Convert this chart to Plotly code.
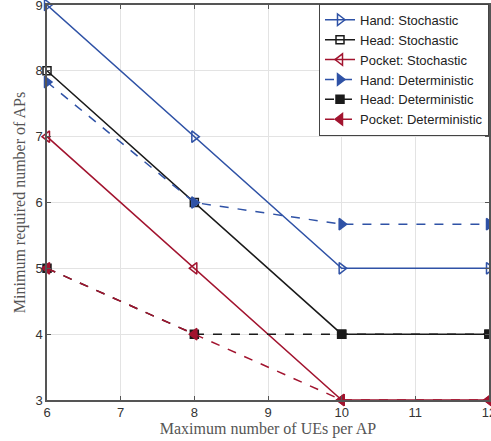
import plotly.graph_objects as go

x_vals = [6, 8, 10, 12]
hand_stoch = [9, 7, 5, 5]
head_stoch = [8, 6, 4, 4]
pocket_stoch = [7, 5, 3, 3]
hand_det = [7.83, 6, 5.67, 5.67]
head_det = [5, 4, 4, 4]
pocket_det = [5, 4, 3, 3]

BLUE = "#2f52a6"
BLACK = "#1a1a1a"
RED = "#a2142f"

series = [
    ("Hand: Stochastic", hand_stoch, BLUE, "solid", "triangle-right-open"),
    ("Head: Stochastic", head_stoch, BLACK, "solid", "square-open"),
    ("Pocket: Stochastic", pocket_stoch, RED, "solid", "triangle-left-open"),
    ("Hand: Deterministic", hand_det, BLUE, "dash", "triangle-right"),
    ("Head: Deterministic", head_det, BLACK, "dash", "square"),
    ("Pocket: Deterministic", pocket_det, RED, "dash", "triangle-left"),
]

fig = go.Figure()
for name, ys, col, dash, sym in series:
    fig.add_trace(go.Scatter(
        x=x_vals, y=ys, name=name, mode="lines+markers",
        line=dict(color=col, width=1.5, dash=dash),
        marker=dict(symbol=sym, size=10 if "square" not in sym else 8,
                    color=col, line=dict(color=col, width=1.5)),
        cliponaxis=False,
    ))

axis_common = dict(
    showgrid=True, gridcolor="#e3e3e3", gridwidth=1,
    showline=True, linecolor="#555555", linewidth=1.5, mirror="ticks",
    ticks="inside", ticklen=4, tickcolor="#555555",
    tickfont=dict(family="Liberation Sans, Arial", size=13, color="#333333"),
    zeroline=False, ticklabeloverflow="allow", automargin=False,
)

title_font = dict(family="Liberation Serif, DejaVu Serif", size=16, color="#555555")

fig.update_layout(
    width=491, height=441,
    margin=dict(l=47, r=2, t=5, b=41, autoexpand=False),
    plot_bgcolor="white", paper_bgcolor="white",
    xaxis=dict(range=[6, 12], dtick=1,
               title=dict(text="Maximum number of UEs per AP", font=title_font, standoff=2),
               **axis_common),
    yaxis=dict(range=[3, 9], dtick=1,
               title=dict(text="Minimum required number of APs", font=title_font, standoff=6),
               **axis_common),
    legend=dict(x=1, y=1.003, xanchor="right", yanchor="top",
                bgcolor="white", bordercolor="#444444", borderwidth=1,
                font=dict(family="Liberation Sans, Arial", size=13, color="#222222"),
                tracegroupgap=0, itemwidth=30),
    showlegend=True,
)

fig.write_html("out.html")
